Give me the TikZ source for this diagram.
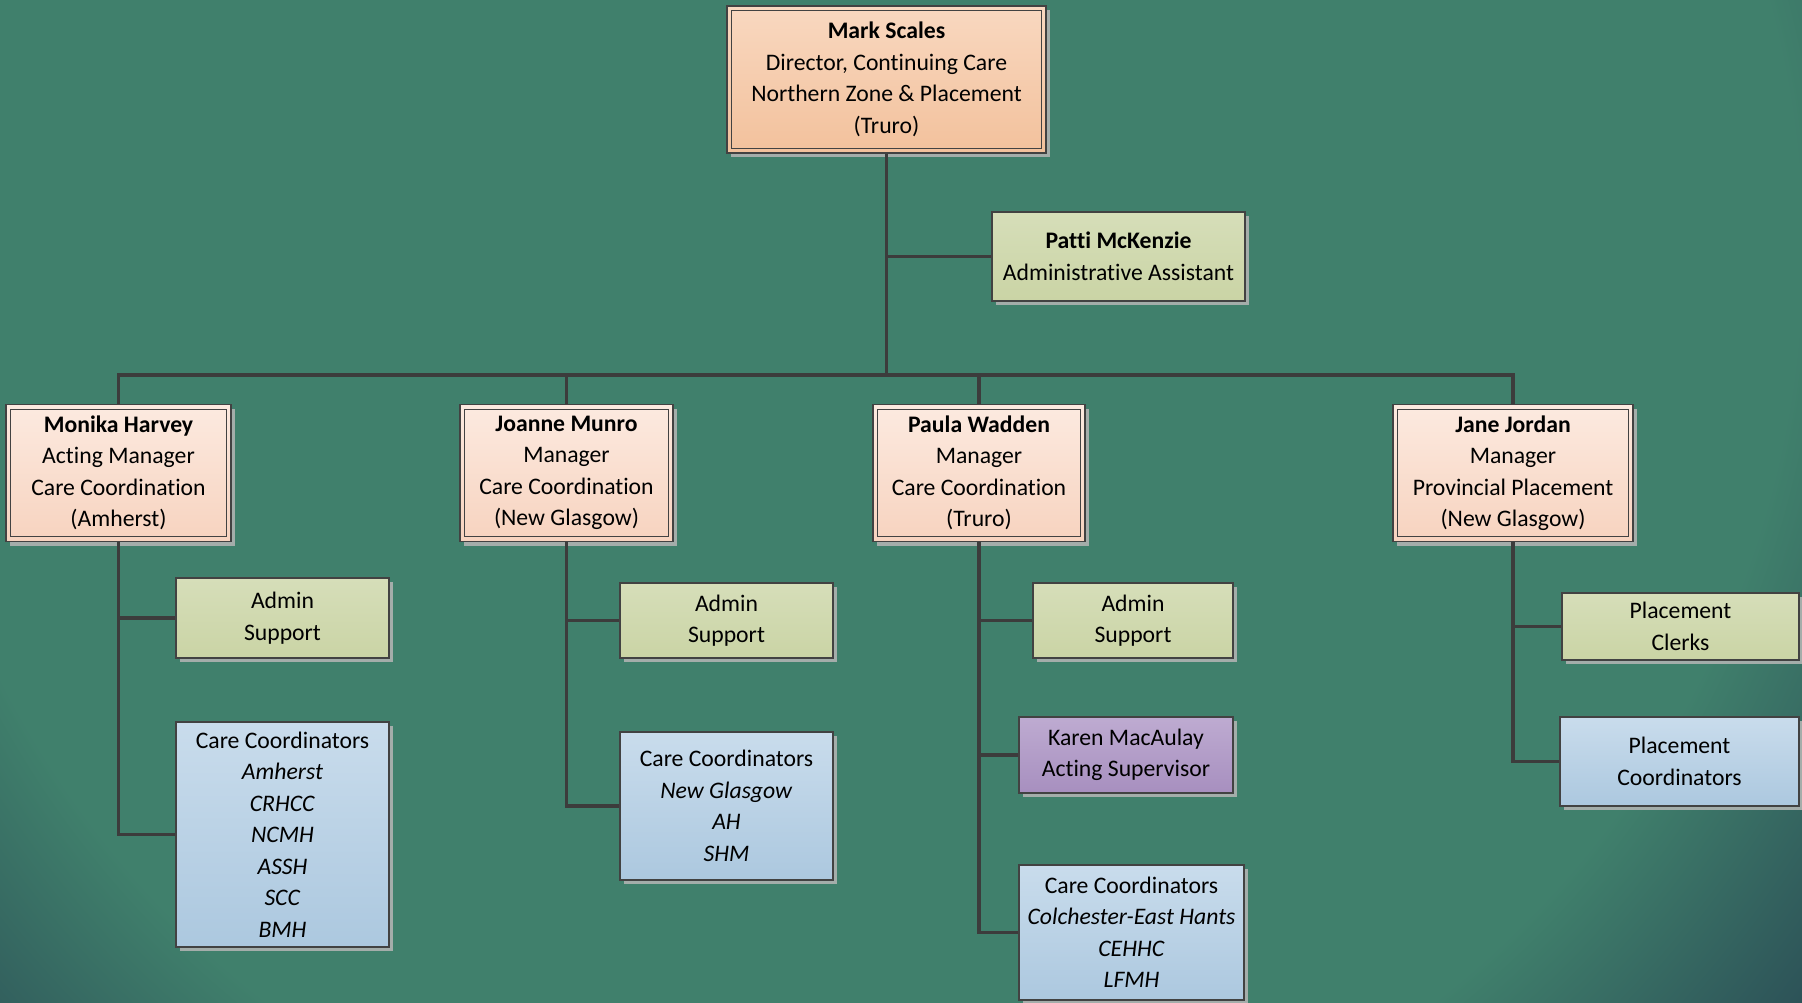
\documentclass[tikz,border=0pt]{standalone}
\usepackage{fontspec}
\setmainfont{Carlito}[Ligatures=NoCommon]
\usepackage{xcolor}
\usepackage{tikz}
\usetikzlibrary{shadows}
\definecolor{bgmid}{HTML}{40806C}
\definecolor{bgdark}{HTML}{2A4C55}
\definecolor{wire}{HTML}{3C3C3C}
\definecolor{rim}{HTML}{424242}
\definecolor{shade}{HTML}{A4ADAA}
\definecolor{chieftop}{HTML}{F9D8C0}
\definecolor{chiefbot}{HTML}{F2C19C}
\definecolor{mgrtop}{HTML}{FCEAE0}
\definecolor{mgrbot}{HTML}{F7D3BF}
\definecolor{suptop}{HTML}{D6DEB9}
\definecolor{supbot}{HTML}{CAD4A5}
\definecolor{teamtop}{HTML}{C9DCEC}
\definecolor{teambot}{HTML}{ACC8DF}
\definecolor{leadtop}{HTML}{BEABD1}
\definecolor{leadbot}{HTML}{A78FBF}
\pgfdeclareradialshading{bgglow}{\pgfpoint{0bp}{0bp}}{color(0bp)=(bgmid); color(19bp)=(bgmid); color(25bp)=(bgdark); color(50bp)=(bgdark)}

\begin{document}
\begin{tikzpicture}[x=1pt, y=-1pt,
  box/.style={draw=rim, line width=1.2pt, inner sep=0pt, align=center,
    font=\fontsize{23.7}{31.5}\selectfont,
    drop shadow={shadow xshift=4pt, shadow yshift=-4pt, fill=shade, opacity=1}},
  chief/.style={box, top color=chieftop, bottom color=chiefbot},
  mgr/.style={box, top color=mgrtop, bottom color=mgrbot},
  support/.style={box, top color=suptop, bottom color=supbot},
  team/.style={box, top color=teamtop, bottom color=teambot},
  lead/.style={box, top color=leadtop, bottom color=leadbot},
  link/.style={draw=wire, line width=3.5pt}]

\useasboundingbox (0,0) rectangle (1802,1002);

% Background
\begin{scope}
  \clip (0,0) rectangle (1802,1002);
  \shade[shading=bgglow] (850,250) circle (1250);
\end{scope}

% Director and assistant
\node[chief, minimum width=319, minimum height=147] (mark) at (886.5,79.5)
  {\textbf{Mark Scales}\\Director, Continuing Care\\Northern Zone \& Placement\\(Truro)};
\node[support, minimum width=253, minimum height=89] (patti) at (1118.5,256.5)
  {\textbf{Patti McKenzie}\\Administrative Assistant};
\coordinate (bus) at (886.5,375);

% Managers
\node[mgr, minimum width=225, minimum height=137] (monika) at (118.5,473)
  {\textbf{Monika Harvey}\\Acting Manager\\Care Coordination\\(Amherst)};
\node[mgr, minimum width=213, minimum height=137] (joanne) at (566.5,473)
  {\textbf{Joanne Munro}\\Manager\\Care Coordination\\(New Glasgow)};
\node[mgr, minimum width=212, minimum height=137] (paula) at (979,473)
  {\textbf{Paula Wadden}\\Manager\\Care Coordination\\(Truro)};
\node[mgr, minimum width=240, minimum height=137] (jane) at (1513,473)
  {\textbf{Jane Jordan}\\Manager\\Provincial Placement\\(New Glasgow)};

% Inner frames
\foreach \n in {mark,monika,joanne,paula,jane}
{
  \draw[rim, line width=0.9pt] ([xshift=5.5pt,yshift=-5.5pt]\n.north west)
    rectangle ([xshift=-5.5pt,yshift=5.5pt]\n.south east);
}

% Amherst
\node[support, minimum width=213, minimum height=80] (monika-admin) at (282.5,618)
  {Admin\\Support};
\node[team, minimum width=213, minimum height=225] (monika-cc) at (282.5,834.5)
  {Care Coordinators\\\textit{Amherst}\\\textit{CRHCC}\\\textit{NCMH}\\\textit{ASSH}\\\textit{SCC}\\\textit{BMH}};

% New Glasgow
\node[support, minimum width=213, minimum height=75] (joanne-admin) at (726.5,620.5)
  {Admin\\Support};
\node[team, minimum width=213, minimum height=148] (joanne-cc) at (726.5,806)
  {Care Coordinators\\\textit{New Glasgow}\\\textit{AH}\\\textit{SHM}};

% Truro
\node[support, minimum width=200, minimum height=75] (paula-admin) at (1133,620.5)
  {Admin\\Support};
\node[lead, minimum width=214, minimum height=76] (karen) at (1126,755)
  {Karen MacAulay\\Acting Supervisor};
\node[team, minimum width=225, minimum height=135] (paula-cc) at (1131.5,932.5)
  {Care Coordinators\\\textit{Colchester-East Hants}\\\textit{CEHHC}\\\textit{LFMH}};

% Placement
\node[support, minimum width=237, minimum height=67] (jane-clerks) at (1680.5,626.5)
  {Placement\\Clerks};
\node[team, minimum width=239, minimum height=89] (jane-coord) at (1679.5,761.5)
  {Placement\\Coordinators};

% Connect director
\draw[link] (mark.south) |- (patti.west);
\draw[link] (mark.south) -- (bus);
\foreach \m in {monika,joanne,paula,jane}
{
  \draw[link] (bus) -| (\m.north);
}

% Connect teams
\foreach \m/\t in {monika/monika-admin, monika/monika-cc,
  joanne/joanne-admin, joanne/joanne-cc,
  paula/paula-admin, paula/karen, paula/paula-cc,
  jane/jane-clerks, jane/jane-coord}
{
  \draw[link] (\m.south) |- (\t.west);
}

\end{tikzpicture}
\end{document}
